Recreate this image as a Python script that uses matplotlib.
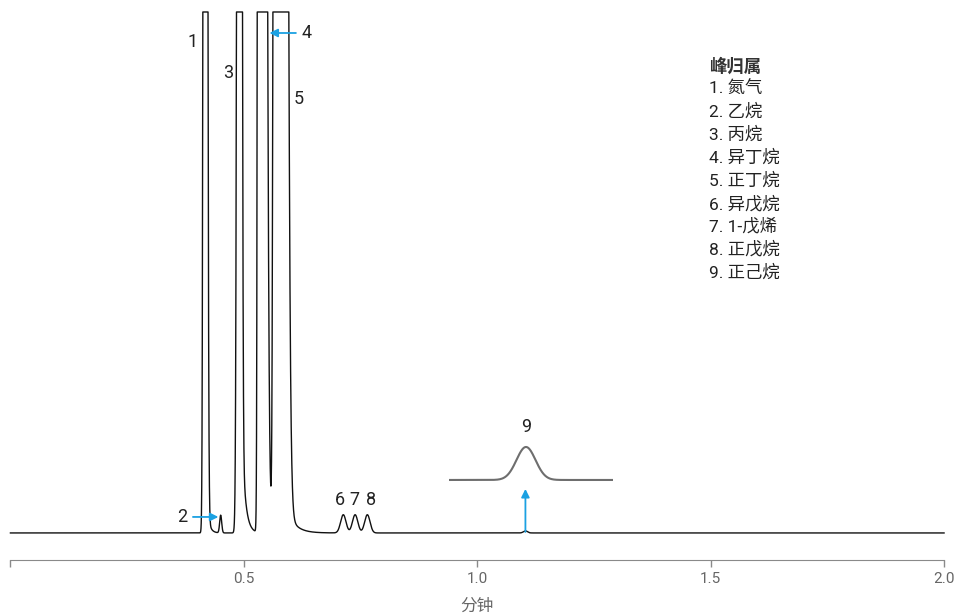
import numpy as np
import matplotlib
matplotlib.use("Agg")
import matplotlib.pyplot as plt

plt.rcParams['font.family'] = ['Roboto', 'Noto Sans CJK SC', 'DejaVu Sans']

# 峰表（保留时间/分钟, 相对峰高, 左右半宽sigma, 拖尾高度与衰减常数）
peak_labels = ['1', '2', '3', '4', '5', '6', '7', '8', '9']
peak_times = [0.41695, 0.45043, 0.49077, 0.53391, 0.57189, 0.71309, 0.73841, 0.76459, 1.10322]
peak_heights = [9.2, 0.034, 9.0, 20.0, 40.0, 0.035, 0.035, 0.035, 0.004]
sigma_left = [0.00234, 0.00215, 0.00318, 0.00219, 0.00365, 0.00579, 0.00579, 0.00579, 0.0043]
sigma_right = [0.0030, 0.00215, 0.00296, 0.00708, 0.00899, 0.00579, 0.00579, 0.00579, 0.0043]
tail_heights = [0.1, 0.0, 0.4, 0.0, 0.15, 0.0, 0.0, 0.0, 0.0]
tail_taus = [0.00536, 0.001, 0.00708, 0.001, 0.01717, 0.001, 0.001, 0.001, 0.001]

legend_title = '峰归属'
compounds = ['氮气', '乙烷', '丙烷', '异丁烷', '正丁烷', '异戊烷', '1-戊烯', '正戊烷', '正己烷']
xticks = [0, 0.5, 1.0, 1.5, 2.0]
xticklabels = ['', '0.5', '1.0', '1.5', '2.0']

# 生成色谱信号（双高斯峰 + 指数拖尾）
t = np.linspace(0, 2.0, 20001)
signal = np.zeros_like(t)
for c, h, sl, sr, th, tau in zip(peak_times, peak_heights, sigma_left, sigma_right,
                                 tail_heights, tail_taus):
    s = np.where(t < c, sl, sr)
    signal += h * np.exp(-0.5 * ((t - c) / s) ** 2)
    step = 0.5 * (1 + np.tanh((t - c) / sl))
    signal += th * np.exp(-np.clip(t - c, 0, None) / tau) * step

clipped = np.minimum(signal, 1.0)

fig = plt.figure(figsize=(9.56, 6.15), dpi=100)
ax = fig.add_axes([0.0109, 0.108, 0.9766, 0.8725])
ax.plot(t, clipped, color='#111111', lw=1.0, clip_on=False)
ax.set_xlim(0, 2.0)
ax.set_ylim(-0.03, 1.0)

for sp in ['top', 'right', 'left']:
    ax.spines[sp].set_visible(False)
ax.spines['bottom'].set_position(('outward', 8.0))
ax.spines['bottom'].set_color('#8a8a8a')
ax.set_yticks([])
ax.set_xticks(xticks)
ax.set_xticklabels(xticklabels)
ax.tick_params(axis='x', direction='out', length=5, width=1, color='#8a8a8a',
               labelcolor='#666666', labelsize=11, pad=4)
ax.set_xlabel('分钟', color='#666666', fontsize=12, labelpad=9)

# 峰标注
def px2t(px):
    return (px - 10.4) / 466.0

def py2y(py):
    return (533.0 - py) / 521.0

label_pos = {'1': (192, 42), '3': (228, 73), '5': (298, 99),
             '6': (339, 500), '7': (354, 500), '8': (370, 500), '9': (525, 427)}
for lab, (px, py) in label_pos.items():
    ax.text(px2t(px), py2y(py), lab, fontsize=13, color='#222222', ha='center', va='center')

blue = '#1ba1e2'
arrow = dict(arrowstyle='-|>', color=blue, lw=1.3, mutation_scale=12, shrinkA=2, shrinkB=0)
ax.annotate('4', xy=(px2t(269), py2y(33)), xytext=(px2t(306), py2y(33)),
            fontsize=13, color='#222222', ha='center', va='center', arrowprops=arrow)
ax.annotate('2', xy=(px2t(218), py2y(517)), xytext=(px2t(182), py2y(517)),
            fontsize=13, color='#222222', ha='center', va='center', arrowprops=arrow)
ax.annotate('', xy=(peak_times[8], py2y(489)), xytext=(peak_times[8], py2y(532)),
            arrowprops=dict(arrowstyle='-|>', color=blue, lw=1.3, mutation_scale=12,
                            shrinkA=0, shrinkB=0))

# 峰9放大图
ins = ax.inset_axes([px2t(448), py2y(490), px2t(612) - px2t(448), py2y(440) - py2y(490)],
                    transform=ax.transData)
ins.plot(t, signal, color='#6e6e6e', lw=1.5)
ins.set_xlim(1.0683, 1.1426)
ins.set_ylim(-0.00121, 0.00485)
ins.axis('off')

# 峰归属说明
fig.text(709 / 956, 1 - 66 / 615, legend_title, fontsize=12.5, fontweight='bold',
         color='#333333', ha='left', va='center')
for i, name in enumerate(compounds):
    fig.text(709 / 956, 1 - (89 + 22.9 * i) / 615, f'{i + 1}. {name}', fontsize=12.5,
             color='#222222', ha='left', va='center')

fig.savefig('out.png', dpi=100)
